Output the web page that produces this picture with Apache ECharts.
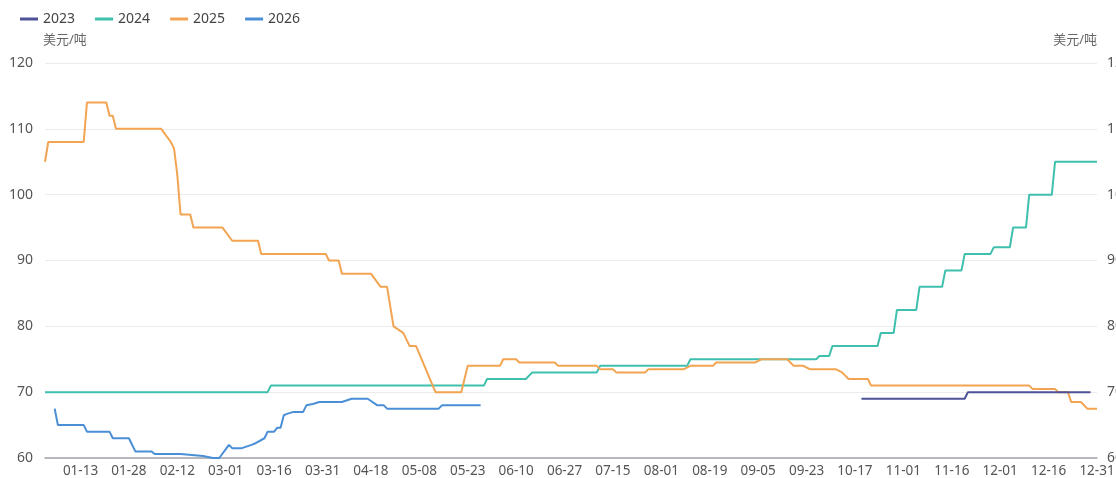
<!DOCTYPE html>
<html>
<head>
<meta charset="utf-8">
<script src="https://cdn.jsdelivr.net/npm/echarts@6/dist/echarts.min.js"></script>
<style>
html,body{margin:0;padding:0;background:#fff;overflow:hidden;}
#c{width:1116px;height:478px;}
</style>
</head>
<body>
<div id="c"></div>
<script>
// ---- categories (month-day, days without any data are absent) ----
const monthLengths = [31,28,31,30,31,30,31,31,30,31,30,31];
const absentDays = ['01-01','02-17','02-24','04-04','04-05','04-06','05-01','05-02','05-03','05-04','05-05',
  '05-31','06-01','06-02','06-15','06-22','06-29','07-06','07-13','07-20','07-27','08-03','08-10','08-17',
  '08-24','08-31','09-07','09-14','09-21','10-01','10-02','10-03','10-04','10-05','10-06','10-07','10-08','10-12'];
const labelDates = ['01-13','01-28','02-12','03-01','03-16','03-31','04-18','05-08','05-23','06-10','06-27',
  '07-15','08-01','08-19','09-05','09-23','10-17','11-01','11-16','12-01','12-16','12-31'];
const yTicks = [60,70,80,90,100,110,120];

// ---- series (date, USD/t) ----
const s2023 = [['10-19',69],['11-20',69],['11-21',70],['12-29',70]];
const s2024 = [['01-02',70],['03-14',70],['03-15',71],['05-28',71],['05-29',72],['06-13',72],['06-16',73],
  ['07-09',73],['07-10',74],['08-11',74],['08-12',75],['09-26',75],['09-27',75.5],['09-30',75.5],['10-09',77],
  ['10-24',77],['10-25',79],['10-29',79],['10-30',82.5],['11-05',82.5],['11-06',86],['11-13',86],['11-14',88.5],
  ['11-19',88.5],['11-20',91],['11-28',91],['11-29',92],['12-04',92],['12-05',95],['12-09',95],['12-10',100],
  ['12-17',100],['12-18',105],['12-31',105]];
const s2025 = [['01-02',105],['01-03',108],['01-14',108],['01-15',114],['01-21',114],['01-22',112],['01-23',112],
  ['01-24',110],['02-07',110],['02-10',108],['02-11',107],['02-12',103],['02-13',97],['02-16',97],['02-18',95],
  ['02-28',95],['03-03',93],['03-11',93],['03-12',91],['04-01',91],['04-02',90],['04-08',90],['04-09',88],
  ['04-18',88],['04-21',86],['04-23',86],['04-25',80],['04-28',79],['04-30',77],['05-07',77],['05-13',70],
  ['05-21',70],['05-23',74],['06-05',74],['06-06',75],['06-10',75],['06-11',74.5],['06-24',74.5],['06-25',74],
  ['07-09',74],['07-10',73.5],['07-15',73.5],['07-16',73],['07-26',73],['07-28',73.5],['08-09',73.5],['08-12',74],
  ['08-20',74],['08-21',74.5],['09-04',74.5],['09-06',75],['09-16',75],['09-18',74],['09-22',74],['09-24',73.5],
  ['10-10',73.5],['10-13',73],['10-15',72],['10-21',72],['10-22',71],['12-10',71],['12-11',70.5],['12-18',70.5],
  ['12-19',70],['12-22',70],['12-23',68.5],['12-26',68.5],['12-28',67.5],['12-31',67.5]];
const s2026 = [['01-05',67.5],['01-06',65],['01-14',65],['01-15',64],['01-22',64],['01-23',63],['01-28',63],
  ['01-30',61],['02-04',61],['02-05',60.6],['02-13',60.6],['02-21',60.3],['02-25',60],['02-27',60],['03-02',62],
  ['03-03',61.5],['03-06',61.5],['03-09',62],['03-10',62.2],['03-13',63],['03-14',64],['03-16',64],['03-17',64.6],
  ['03-18',64.6],['03-19',66.5],['03-20',66.7],['03-22',67],['03-25',67],['03-26',68],['03-28',68.2],['03-30',68.5],
  ['04-09',68.5],['04-12',69],['04-17',69],['04-20',68],['04-22',68],['04-23',67.5],['05-14',67.5],['05-15',68],
  ['05-27',68]];

const seriesNames = ['2023','2024','2025','2026'];
const seriesColors = ['#4e5296','#3fbfad','#f2a452','#4a8fd6'];

// build category list
const categories = [];
monthLengths.forEach((n, m) => {
  for (let d = 1; d <= n; d++) {
    const k = String(m + 1).padStart(2, '0') + '-' + String(d).padStart(2, '0');
    if (absentDays.indexOf(k) < 0) categories.push(k);
  }
});
const toData = arr => arr.map(p => [categories.indexOf(p[0]), p[1]]);
const allSeries = [s2023, s2024, s2025, s2026];

const FONT = "'Noto Sans', 'Noto Sans CJK SC', sans-serif";
const chart = echarts.init(document.getElementById('c'));
chart.setOption({
  animation: false,
  textStyle: { fontFamily: FONT },
  legend: {
    left: 15, top: 7,
    icon: 'rect', itemWidth: 18, itemHeight: 3, itemGap: 20,
    textStyle: { fontSize: 14, color: '#444', fontFamily: FONT },
    data: seriesNames
  },
  grid: { left: 45, right: 19, top: 63, bottom: 20, containLabel: false, outerBoundsMode: 'none' },
  xAxis: {
    type: 'category',
    boundaryGap: false,
    data: categories,
    axisLine: { lineStyle: { color: '#a0a4aa', width: 1.5 } },
    axisTick: { show: false },
    axisLabel: {
      interval: (idx, val) => labelDates.indexOf(val) >= 0,
      color: '#555', fontSize: 13.5, margin: 6, fontFamily: FONT, hideOverlap: false
    },
    splitLine: { show: false }
  },
  yAxis: [{
    type: 'value', min: yTicks[0], max: yTicks[yTicks.length - 1], interval: 10,
    name: '美元/吨', nameGap: 16,
    nameTextStyle: { align: 'left', color: '#666', fontSize: 13, fontFamily: FONT, padding: [0, 0, 0, -2] },
    axisLine: { show: false }, axisTick: { show: false },
    axisLabel: { color: '#555', fontSize: 14, margin: 12, fontFamily: FONT },
    splitLine: { lineStyle: { color: '#ebebeb', width: 1 } }
  }, {
    type: 'value', position: 'right', min: yTicks[0], max: yTicks[yTicks.length - 1], interval: 10,
    name: '美元/吨', nameGap: 16,
    nameTextStyle: { align: 'right', color: '#666', fontSize: 13, fontFamily: FONT },
    axisLine: { show: false }, axisTick: { show: false },
    axisLabel: { color: '#555', fontSize: 14, margin: 10, fontFamily: FONT },
    splitLine: { show: false }
  }],
  series: seriesNames.map((n, i) => ({
    name: n, type: 'line', yAxisIndex: 0,
    data: toData(allSeries[i]),
    showSymbol: false, symbol: 'none',
    lineStyle: { width: 2, color: seriesColors[i] },
    itemStyle: { color: seriesColors[i] },
    z: i === 0 ? 5 : 2
  }))
});
</script>
</body>
</html>
